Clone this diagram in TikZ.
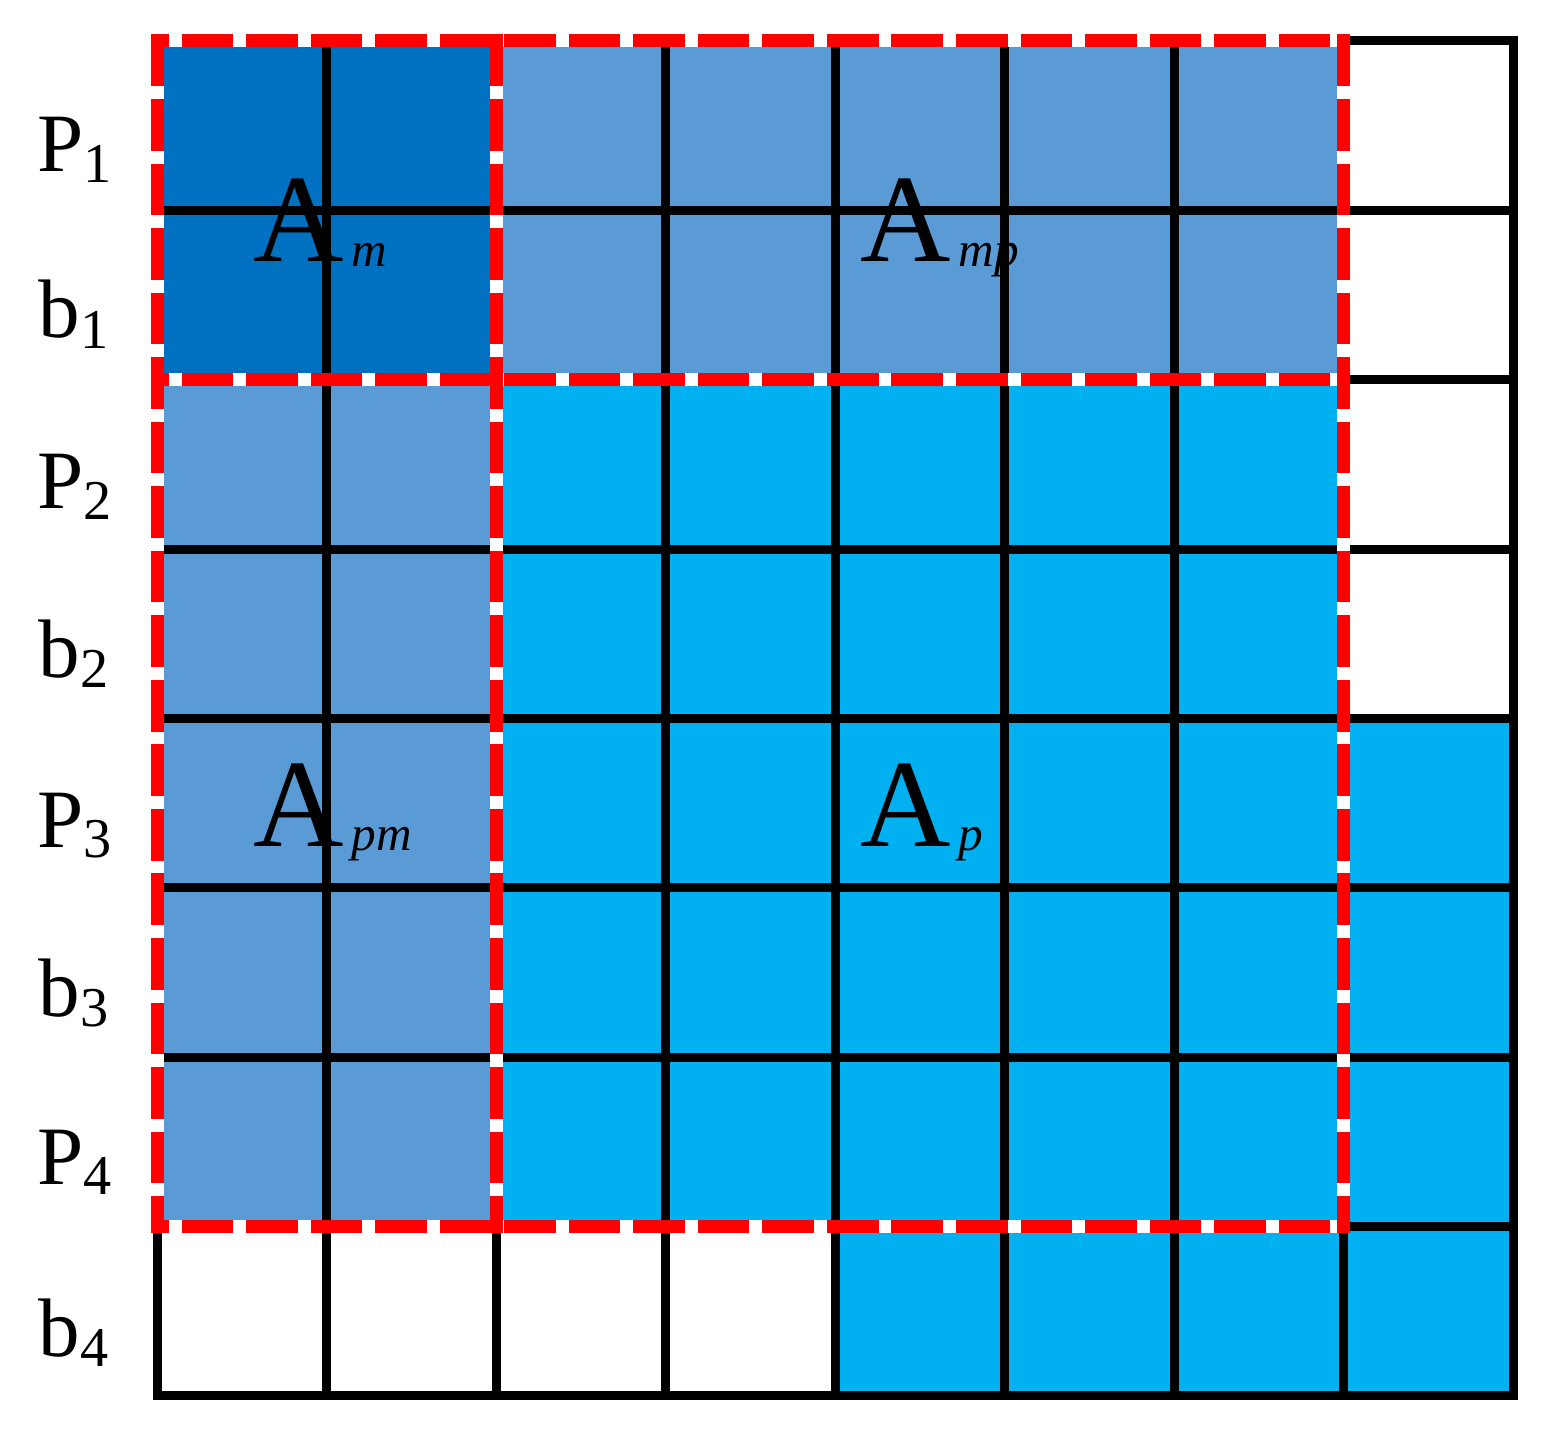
\documentclass[tikz,border=0pt]{standalone}
\usepackage{fontspec}
\setmainfont{Liberation Serif}
\definecolor{darkb}{RGB}{0,112,192}
\definecolor{medb}{RGB}{91,155,213}
\definecolor{cyanb}{RGB}{0,176,240}
\definecolor{redl}{RGB}{255,0,0}
\newcommand{\rowlab}[2]{{\fontsize{23.6pt}{26pt}\selectfont #1}\raisebox{-2.85pt}{\fontsize{16pt}{18pt}\selectfont #2}}
\newcommand{\blocklab}[1]{{\fontsize{35.6pt}{40pt}\selectfont A}\hspace{2.2pt}\raisebox{-1.4pt}{\fontsize{14pt}{16pt}\selectfont\itshape #1}}
\begin{document}
\begin{tikzpicture}[x=0.01cm,y=-0.01cm,
  gridline/.style={line width=0.09cm, black},
  redunder/.style={line width=0.13cm, white},
  redhdash/.style={line width=0.13cm, redl, dash pattern=on 0.516cm off 0.129cm, dash phase=0.34cm},
  redvdash/.style={line width=0.13cm, redl, dash pattern=on 0.516cm off 0.129cm, dash phase=0cm},
  rowlabel/.style={anchor=base west, inner sep=0pt},
  blocklabel/.style={anchor=base west, inner sep=0pt}]
\useasboundingbox (0,0) rectangle (1555,1440);
\begin{scope}[shift={(157.5,41)}, x=1.69375cm, y=-1.6925cm]
  \fill[darkb] (0,0) rectangle (2,2);
  \fill[medb] (2,0) rectangle (7,2);
  \fill[medb] (0,2) rectangle (2,7);
  \fill[cyanb] (2,2) rectangle (7,7);
  \fill[cyanb] (7,4) rectangle (8,8);
  \fill[cyanb] (4,7) rectangle (8,8);
  \foreach \i in {1,...,7} {
    \draw[gridline] (\i,0) -- (\i,8);
    \draw[gridline] (0,\i) -- (8,\i);
  }
  \draw[gridline, line join=miter] (0,0) rectangle (8,8);
  \foreach \yy in {0,2,7} \draw[redunder] ([xshift=-0.065cm]0,\yy) -- ([xshift=0.065cm]7,\yy);
  \foreach \xx in {0,2,7} \draw[redunder] ([yshift=0.065cm]\xx,0) -- ([yshift=-0.065cm]\xx,7);
  \foreach \yy in {0,2,7} \draw[redhdash] ([xshift=-0.065cm]0,\yy) -- ([xshift=0.065cm]7,\yy);
  \foreach \xx in {0,2,7} \draw[redvdash] ([yshift=0.065cm]\xx,0) -- ([yshift=-0.065cm]\xx,7);
\end{scope}
\node[rowlabel] (P1) at (37,172) {\rowlab{P}{1}};
\node[rowlabel] (b1) at (38,338) {\rowlab{b}{1}};
\node[rowlabel] (P2) at (37,509) {\rowlab{P}{2}};
\node[rowlabel] (b2) at (38,677) {\rowlab{b}{2}};
\node[rowlabel] (P3) at (37,847) {\rowlab{P}{3}};
\node[rowlabel] (b3) at (38,1016) {\rowlab{b}{3}};
\node[rowlabel] (P4) at (37,1184) {\rowlab{P}{4}};
\node[rowlabel] (b4) at (38,1356) {\rowlab{b}{4}};
\node[blocklabel] (Am) at (253,262) {\blocklab{m}};
\node[blocklabel] (Amp) at (860,262) {\blocklab{mp}};
\node[blocklabel] (Apm) at (253,846) {\blocklab{pm}};
\node[blocklabel] (Ap) at (860,846) {\blocklab{p}};
\end{tikzpicture}
\end{document}
